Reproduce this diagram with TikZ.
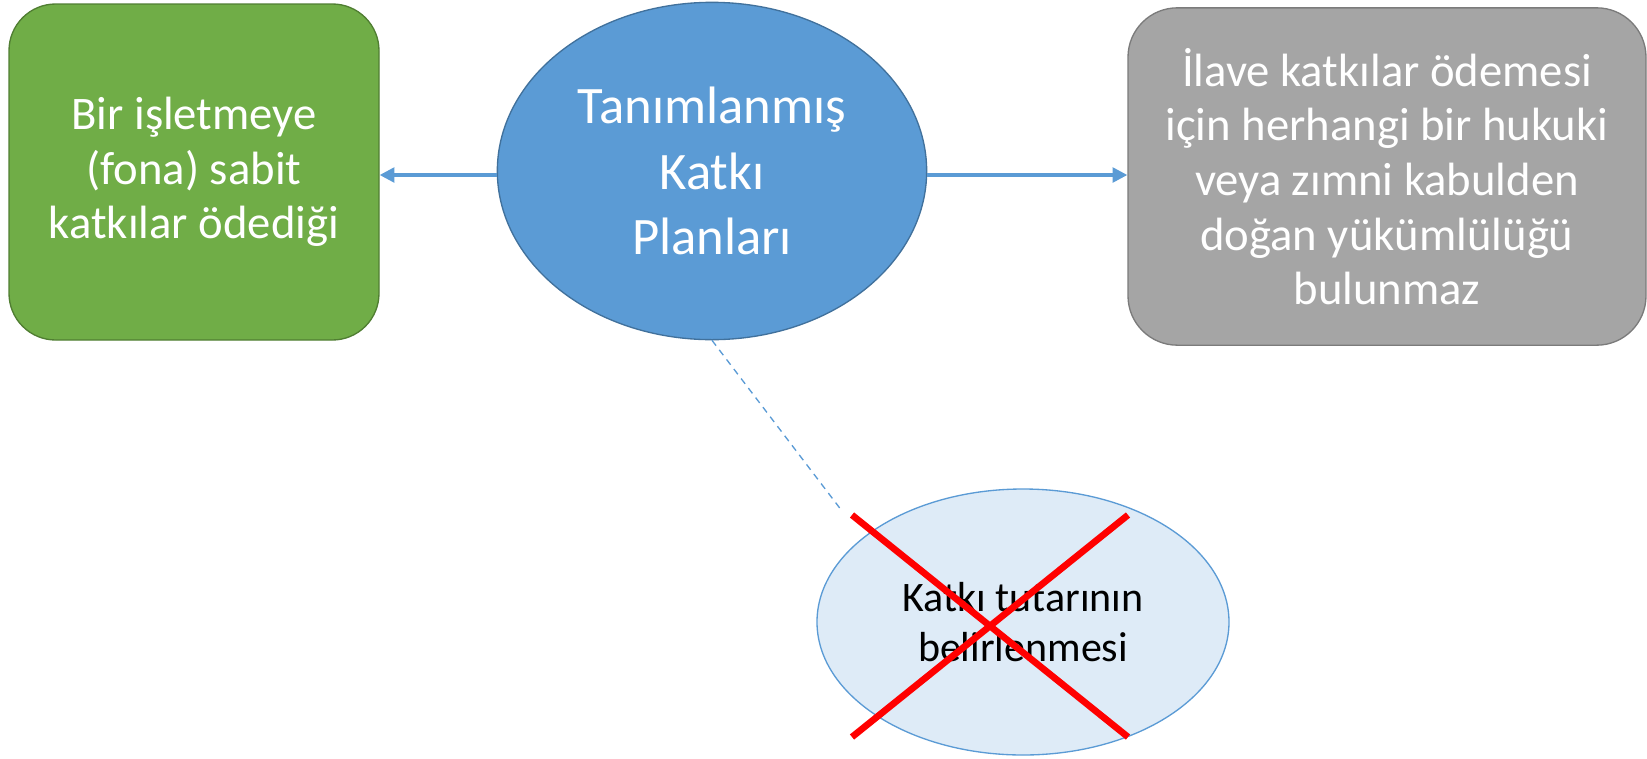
\documentclass[tikz,border=0pt]{standalone}
\usepackage{fontspec}
\setmainfont{Carlito}
\usetikzlibrary{shapes.geometric, arrows.meta, positioning, calc}

\definecolor{leafgreen}{HTML}{70AD47}
\definecolor{leafedge}{HTML}{507E32}
\definecolor{planblue}{HTML}{5B9BD5}
\definecolor{planedge}{HTML}{41719C}
\definecolor{stonegrey}{HTML}{A5A5A5}
\definecolor{stoneedge}{HTML}{7B7B7B}
\definecolor{paleblue}{HTML}{DEEBF7}
\definecolor{crossred}{HTML}{FF0000}

\begin{document}
\begin{tikzpicture}[
    x=0.75pt, y=-0.75pt,
    card/.style={draw, rectangle, line width=1pt, align=center, text=white, inner sep=4pt,
        font=\fontsize{35}{41}\selectfont},
    greenbox/.style={card, fill=leafgreen, draw=leafedge, rounded corners=35pt,
        minimum width=277.5pt, minimum height=252pt},
    greybox/.style={card, fill=stonegrey, draw=stoneedge, rounded corners=37pt,
        minimum width=388.5pt, minimum height=253pt},
    plan/.style={draw=planedge, fill=planblue, ellipse, line width=1pt, inner sep=0pt, align=center,
        text=white, minimum width=322pt, minimum height=253pt, font=\fontsize{39.5}{49}\selectfont},
    amount/.style={draw=planblue, fill=paleblue, ellipse, line width=1pt, inner sep=0pt, align=center,
        minimum width=309pt, minimum height=199.5pt, font=\fontsize{31.5}{37.5}\selectfont},
    link/.style={draw=planblue, line width=2.4pt, -{Triangle[length=11pt,width=11pt]}},
    hint/.style={draw=planblue, line width=1pt, dash pattern=on 5pt off 4pt},
    cross/.style={draw=crossred, line width=5pt}
]
\useasboundingbox (0,0) rectangle (1647,758);

\node[greenbox] (fixed) at (194,172) {Bir işletmeye\\(fona) sabit\\katkılar ödediği};
\node[plan] (dcp) at (712,171) {Tanımlanmış\\Katkı\\Planları};
\node[greybox] (noobl) at (1387,176.5) {İlave katkılar ödemesi\\için herhangi bir hukuki\\veya zımni kabulden\\doğan yükümlülüğü\\bulunmaz};
\node[amount] (amt) at (1023,622) {Katkı tutarının\\belirlenmesi};

\coordinate (hintend) at (842,511);

\draw[link] (dcp.west |- 0,175) -- (fixed.east |- 0,175);
\draw[link] (dcp.east |- 0,175) -- (noobl.west |- 0,175);
\draw[hint] (dcp.south) -- (hintend);

% crossed out
\draw[cross] (852,515) -- (1128,737);
\draw[cross] (852,737) -- (1128,515);

\end{tikzpicture}
\end{document}
